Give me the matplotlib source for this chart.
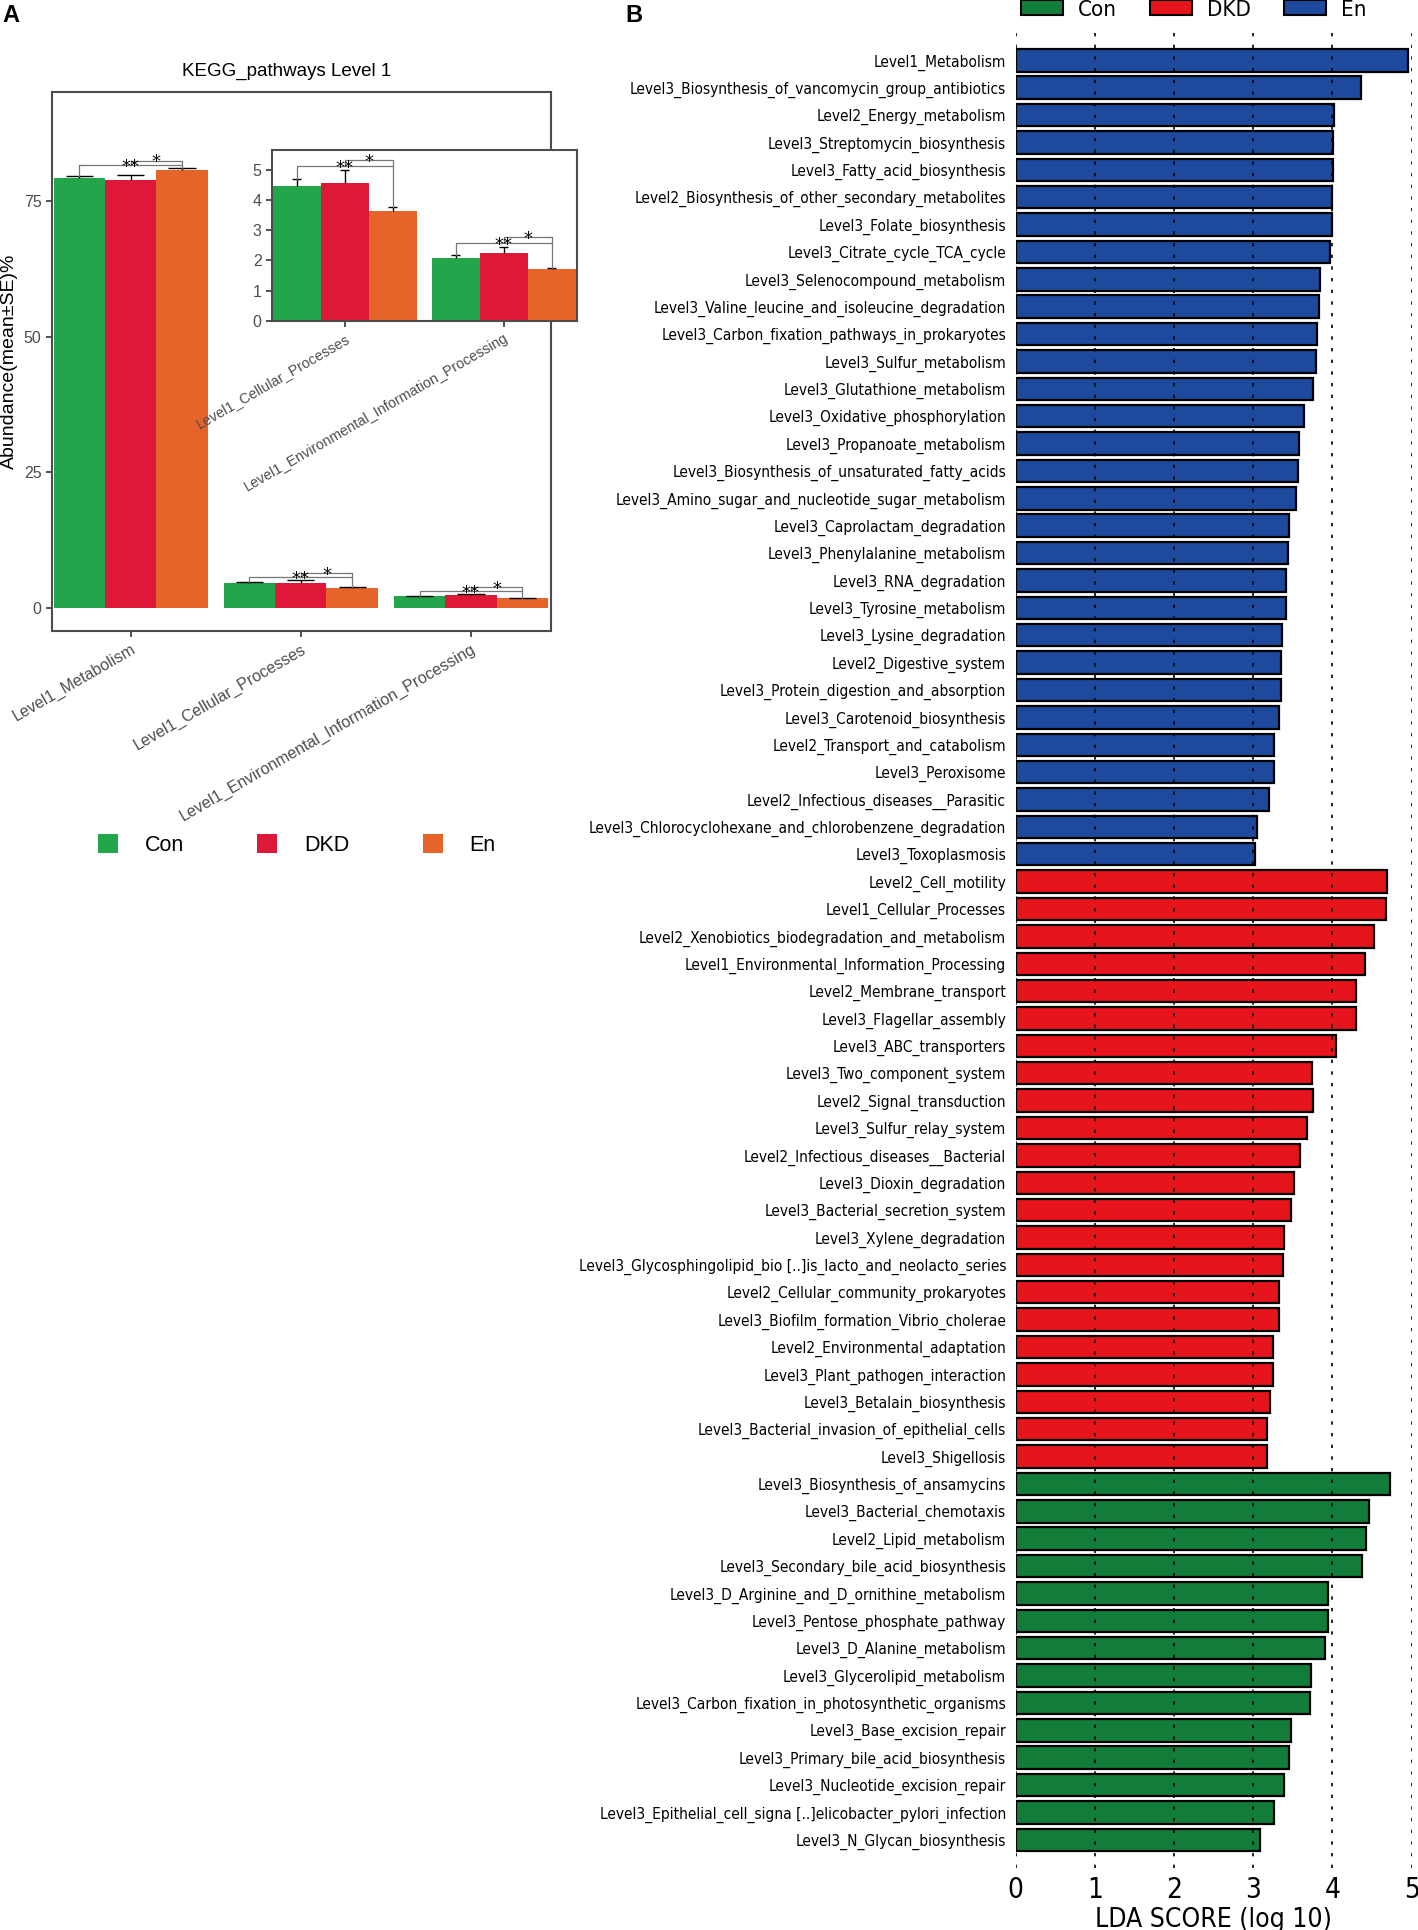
import numpy as np
import matplotlib
matplotlib.use("Agg")
import matplotlib.pyplot as plt
from matplotlib.patches import Patch

W, H = 1418, 1930

# ---- panel A data (KEGG level 1 abundance, mean and SE) ----
groups = ["Con", "DKD", "En"]
pathways_a = ["Level1_Metabolism", "Level1_Cellular_Processes",
              "Level1_Environmental_Information_Processing"]
mean_con = [79.26, 4.49, 2.09]
mean_dkd = [79.00, 4.56, 2.26]
mean_en = [80.70, 3.64, 1.73]
se_con = [0.45, 0.21, 0.08]
se_dkd = [0.80, 0.46, 0.20]
se_en = [0.40, 0.13, 0.03]
sig_con_en = ["**", "**", "**"]
sig_dkd_en = ["*", "*", "*"]

# ---- panel B data (LEfSe LDA scores) ----
names_en = ["Level1_Metabolism", "Level3_Biosynthesis_of_vancomycin_group_antibiotics",
            "Level2_Energy_metabolism", "Level3_Streptomycin_biosynthesis",
            "Level3_Fatty_acid_biosynthesis", "Level2_Biosynthesis_of_other_secondary_metabolites",
            "Level3_Folate_biosynthesis", "Level3_Citrate_cycle_TCA_cycle",
            "Level3_Selenocompound_metabolism", "Level3_Valine_leucine_and_isoleucine_degradation",
            "Level3_Carbon_fixation_pathways_in_prokaryotes", "Level3_Sulfur_metabolism",
            "Level3_Glutathione_metabolism", "Level3_Oxidative_phosphorylation",
            "Level3_Propanoate_metabolism", "Level3_Biosynthesis_of_unsaturated_fatty_acids",
            "Level3_Amino_sugar_and_nucleotide_sugar_metabolism", "Level3_Caprolactam_degradation",
            "Level3_Phenylalanine_metabolism", "Level3_RNA_degradation",
            "Level3_Tyrosine_metabolism", "Level3_Lysine_degradation",
            "Level2_Digestive_system", "Level3_Protein_digestion_and_absorption",
            "Level3_Carotenoid_biosynthesis", "Level2_Transport_and_catabolism",
            "Level3_Peroxisome", "Level2_Infectious_diseases__Parasitic",
            "Level3_Chlorocyclohexane_and_chlorobenzene_degradation", "Level3_Toxoplasmosis"]
lda_en = [4.95, 4.36, 4.02, 4.01, 4.01, 4.00, 4.00, 3.97, 3.84, 3.83,
          3.80, 3.79, 3.76, 3.64, 3.58, 3.56, 3.54, 3.45, 3.44, 3.42,
          3.41, 3.36, 3.35, 3.35, 3.32, 3.26, 3.26, 3.20, 3.05, 3.02]

names_dkd = ["Level2_Cell_motility", "Level1_Cellular_Processes",
             "Level2_Xenobiotics_biodegradation_and_metabolism",
             "Level1_Environmental_Information_Processing", "Level2_Membrane_transport",
             "Level3_Flagellar_assembly", "Level3_ABC_transporters",
             "Level3_Two_component_system", "Level2_Signal_transduction",
             "Level3_Sulfur_relay_system", "Level2_Infectious_diseases__Bacterial",
             "Level3_Dioxin_degradation", "Level3_Bacterial_secretion_system",
             "Level3_Xylene_degradation",
             "Level3_Glycosphingolipid_bio [..]is_lacto_and_neolacto_series",
             "Level2_Cellular_community_prokaryotes", "Level3_Biofilm_formation_Vibrio_cholerae",
             "Level2_Environmental_adaptation", "Level3_Plant_pathogen_interaction",
             "Level3_Betalain_biosynthesis", "Level3_Bacterial_invasion_of_epithelial_cells",
             "Level3_Shigellosis"]
lda_dkd = [4.69, 4.68, 4.53, 4.41, 4.30, 4.30, 4.04, 3.74, 3.75, 3.68, 3.59,
           3.51, 3.48, 3.39, 3.38, 3.32, 3.32, 3.25, 3.25, 3.21, 3.18, 3.18]

names_con = ["Level3_Biosynthesis_of_ansamycins", "Level3_Bacterial_chemotaxis",
             "Level2_Lipid_metabolism", "Level3_Secondary_bile_acid_biosynthesis",
             "Level3_D_Arginine_and_D_ornithine_metabolism", "Level3_Pentose_phosphate_pathway",
             "Level3_D_Alanine_metabolism", "Level3_Glycerolipid_metabolism",
             "Level3_Carbon_fixation_in_photosynthetic_organisms", "Level3_Base_excision_repair",
             "Level3_Primary_bile_acid_biosynthesis", "Level3_Nucleotide_excision_repair",
             "Level3_Epithelial_cell_signa [..]elicobacter_pylori_infection",
             "Level3_N_Glycan_biosynthesis"]
lda_con = [4.73, 4.46, 4.43, 4.38, 3.95, 3.94, 3.91, 3.73, 3.72, 3.48,
           3.45, 3.39, 3.26, 3.09]

cols_a = ["#22A54B", "#DE1838", "#E6632A"]
cols_b = {"Con": "#127C3A", "DKD": "#E6141B", "En": "#1E4A9E"}
grey = "#4D4D4D"
SANS = ["Liberation Sans", "DejaVu Sans"]

fig = plt.figure(figsize=(W / 100, H / 100), dpi=100)


def fx(px):
    return px / W


def fy(py):
    return 1 - py / H


def draw_groups(ax, xs, idx, cap, off1, off2, bw=0.302):
    means = [mean_con, mean_dkd, mean_en]
    ses = [se_con, se_dkd, se_en]
    for k in range(3):
        pos = np.array(xs) + (k - 1) * bw
        vals = [means[k][i] for i in idx]
        errs = [ses[k][i] for i in idx]
        ax.bar(pos, vals, width=bw, color=cols_a[k], zorder=2)
        tops = np.array(vals) + np.array(errs)
        ax.vlines(pos, vals, tops, color="black", lw=1, zorder=3)
        ax.hlines(tops, pos - cap, pos + cap, color="black", lw=1, zorder=3)
    for j, i in enumerate(idx):
        x0 = xs[j]
        xc, xd, xe = x0 - bw, x0, x0 + bw
        tc = mean_con[i] + se_con[i]
        td = mean_dkd[i] + se_dkd[i]
        te = mean_en[i] + se_en[i]
        top = max(tc, td, te)
        y1 = top + off1
        y2 = top + off2
        ax.plot([xc, xc, xe, xe], [tc, y1, y1, te], color="#777777", lw=0.9, zorder=4)
        ax.plot([xd, xd, xe, xe], [y1, y2, y2, y1], color="#777777", lw=0.9, zorder=4)
        ax.annotate(sig_con_en[i], ((xc + xe) / 2, y1), xytext=(0, -5),
                    textcoords="offset points", ha="center", va="baseline",
                    fontsize=13, family="DejaVu Sans", zorder=5)
        ax.annotate(sig_dkd_en[i], ((xd + xe) / 2, y2), xytext=(0, -5),
                    textcoords="offset points", ha="center", va="baseline",
                    fontsize=13, family="DejaVu Sans", zorder=5)


# ---- panel A main axes ----
axa = fig.add_axes([fx(51.8), fy(631), fx(550.5 - 51.8), (631 - 91.7) / H])
draw_groups(axa, [1, 2, 3], [0, 1, 2], cap=0.08, off1=0.6, off2=1.4)
axa.set_xlim(0.536, 3.468)
axa.set_ylim(-4.3, 95.2)
axa.set_yticks([0, 25, 50, 75])
axa.set_xticks([1, 2, 3])
axa.set_xticklabels(pathways_a, rotation=30, ha="right", rotation_mode="anchor",
                    fontsize=11.6, color=grey, family=SANS)
for lab in axa.get_yticklabels():
    lab.set_fontsize(11.5)
    lab.set_color(grey)
    lab.set_family(SANS)
axa.tick_params(length=4, width=1.2, color="#333333")
for s in axa.spines.values():
    s.set_color(grey)
    s.set_linewidth(1.5)

# ---- panel A inset ----
axi = fig.add_axes([fx(272), fy(320.7), fx(577 - 272), (320.7 - 150) / H])
draw_groups(axi, [1, 2], [1, 2], cap=0.028, off1=0.11, off2=0.33)
axi.set_xlim(0.542, 2.46)
axi.set_ylim(0, 5.67)
axi.set_yticks(range(6))
axi.set_xticks([1, 2])
axi.set_xticklabels(pathways_a[1:], rotation=30, ha="right", rotation_mode="anchor",
                    fontsize=10.4, color=grey, family=SANS)
for lab in axi.get_yticklabels():
    lab.set_fontsize(11.5)
    lab.set_color(grey)
    lab.set_family(SANS)
axi.tick_params(length=4, width=1.2, color="#333333")
for s in axi.spines.values():
    s.set_color(grey)
    s.set_linewidth(1.5)

fig.text(fx(287), fy(71), "KEGG_pathways Level 1", ha="center", va="center",
         fontsize=13.5, family=SANS)
fig.text(fx(9), fy(361), "Abundance(mean\u00b1SE)%", ha="center", va="center",
         rotation=90, fontsize=14, family=SANS)
fig.text(fx(2), fy(4), "A", ha="left", va="top", fontsize=17, fontweight="bold", family=SANS)
fig.text(fx(625), fy(4), "B", ha="left", va="top", fontsize=17, fontweight="bold", family=SANS)

handles_a = [Patch(facecolor=c, edgecolor="none") for c in cols_a]
fig.legend(handles_a, groups, loc="center left", bbox_to_anchor=(fx(98), fy(845)),
           ncol=3, frameon=False, prop={"family": SANS, "size": 15.5},
           handlelength=0.93, handleheight=0.93, handletextpad=1.25,
           columnspacing=3.4, borderpad=0, borderaxespad=0)

# ---- panel B ----
names_b = names_en + names_dkd + names_con
lda_b = lda_en + lda_dkd + lda_con
bar_cols = ([cols_b["En"]] * len(names_en) + [cols_b["DKD"]] * len(names_dkd)
            + [cols_b["Con"]] * len(names_con))
ypos = -np.arange(len(names_b))

axb = fig.add_axes([fx(1015.8), fy(1868), fx(1411.5 - 1015.8), (1868 - 30) / H])
axb.barh(ypos, lda_b, height=0.82, color=bar_cols, edgecolor="black", linewidth=1.6, zorder=2)
for v in range(6):
    axb.axvline(v, color="black", ls=(0, (2, 5)), lw=1.2, zorder=3)
axb.set_xlim(0, 5)
axb.set_ylim(ypos[-1] - 1.03, 1.107)
axb.set_yticks(ypos)
axb.set_yticklabels(names_b, fontsize=11.1, family="DejaVu Sans", fontstretch="condensed")
axb.set_xticks(range(6))
axb.set_xticklabels([str(v) for v in range(6)], fontsize=20, family="DejaVu Sans",
                    fontstretch="condensed")
axb.tick_params(axis="y", length=0, pad=7)
axb.tick_params(axis="x", length=0, pad=6)
axb.set_xlabel("LDA SCORE (log 10)", fontsize=19, family="DejaVu Sans",
               fontstretch="condensed", labelpad=2)
for s in axb.spines.values():
    s.set_visible(False)

handles_b = [Patch(facecolor=cols_b[g], edgecolor="black", linewidth=1.5) for g in groups]
fig.legend(handles_b, groups, loc="center left", bbox_to_anchor=(fx(1021), fy(9.7)),
           ncol=3, frameon=False,
           prop={"family": "DejaVu Sans", "size": 16, "stretch": "condensed"},
           handlelength=1.9, handleheight=0.65, handletextpad=0.65,
           columnspacing=1.5, borderpad=0, borderaxespad=0)

fig.savefig("out.png", dpi=100)
